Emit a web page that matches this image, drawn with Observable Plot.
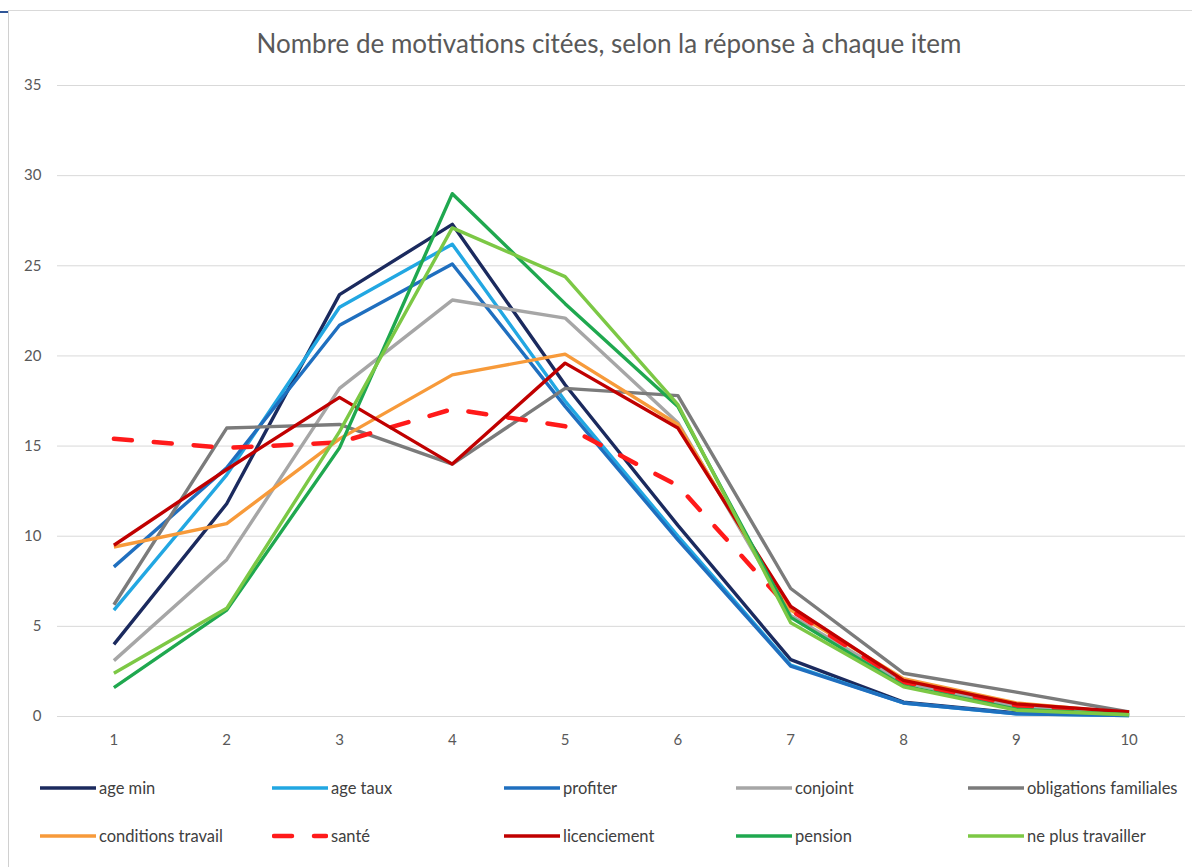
<!DOCTYPE html>
<html><head><meta charset="utf-8">
<script src="https://cdn.jsdelivr.net/npm/d3@7"></script>
<script src="https://cdn.jsdelivr.net/npm/@observablehq/plot@0.6"></script>
<style>
body{margin:0;background:#fff;font-family:Lato,sans-serif;overflow:hidden;}
#frame{position:absolute;left:8px;top:10px;width:1200px;height:880px;border-left:1px solid #d0d0d0;border-top:1px solid #d9d9d9;}
#mark{position:absolute;left:0;top:11px;width:8px;height:2px;background:#2f5597;}
#title{position:absolute;left:0;width:1218px;top:27px;text-align:center;font-size:26px;color:#595959;white-space:nowrap;}
#chart{position:absolute;left:0;top:70px;}
.item{position:absolute;display:flex;align-items:center;font-size:16.5px;color:#404040;white-space:nowrap;}
.item svg{margin-right:3px;}
</style></head>
<body>
<div id="frame"></div><div id="mark"></div>
<div id="title">Nombre de motivations citées, selon la réponse à chaque item</div>
<div id="chart"></div>
<div id="legend"></div>
<script>
const items = [1,2,3,4,5,6,7,8,9,10];
const yTicks = [0,5,10,15,20,25,30,35];
const seriesNames = ["age min","age taux","profiter","conjoint","obligations familiales","conditions travail","santé","licenciement","pension","ne plus travailler"];
const seriesColors = ["#1b2a5e","#22a7e2","#1f6fbf","#a6a6a6","#7b7b7b","#f79a3a","#ff1a1a","#c00000","#1fa84f","#7cc845"];
const ageMin      = [4.0, 11.8, 23.4, 27.3, 18.4, 10.6, 3.15, 0.8, 0.2, 0.1];
const ageTaux     = [5.9, 13.4, 22.7, 26.2, 17.5, 10.0, 2.85, 0.75, 0.15, 0.05];
const profiter    = [8.3, 13.8, 21.7, 25.1, 17.2, 9.8, 2.8, 0.75, 0.15, 0.05];
const conjoint    = [3.1, 8.7, 18.2, 23.1, 22.1, 16.3, 5.6, 1.9, 0.55, 0.15];
const obligations = [6.2, 16.0, 16.2, 14.0, 18.2, 17.8, 7.1, 2.4, 1.35, 0.25];
const conditions  = [9.4, 10.7, 15.4, 18.95, 20.1, 16.2, 5.9, 2.1, 0.75, 0.2];
const sante       = [15.4, 14.9, 15.2, 17.05, 16.1, 12.8, 5.9, 1.9, 0.6, 0.15];
const licenciement= [9.5, 13.7, 17.7, 14.0, 19.6, 16.0, 6.1, 2.0, 0.7, 0.25];
const pension     = [1.6, 5.9, 14.9, 29.0, 22.9, 17.2, 5.5, 1.7, 0.4, 0.1];
const nePlus      = [2.4, 6.0, 15.8, 27.1, 24.4, 17.3, 5.2, 1.65, 0.35, 0.1];
const allValues = [ageMin, ageTaux, profiter, conjoint, obligations, conditions, sante, licenciement, pension, nePlus];

const rows = [];
seriesNames.forEach((s, i) => allValues[i].forEach((v, j) => rows.push({series: s, x: items[j], y: v})));

const marks = [
  Plot.gridY(yTicks, {stroke: "#d9d9d9", strokeOpacity: 1, strokeWidth: 1}),
  Plot.axisY(yTicks, {tickSize: 0, tickPadding: 16, label: null, fontSize: 15, fill: "#595959"}),
  Plot.axisX(items, {tickSize: 0, tickPadding: 18, label: null, fontSize: 15, fill: "#595959", tickFormat: d => String(d)})
];
seriesNames.forEach((s, i) => {
  const data = rows.filter(r => r.series === s);
  const dashed = s === "santé";
  marks.push(Plot.lineY(data, {
    x: "x", y: "y", stroke: seriesColors[i],
    strokeWidth: dashed ? 4.5 : 3.4,
    strokeDasharray: dashed ? "18,22" : null,
    strokeLinecap: dashed ? "round" : "butt",
    strokeLinejoin: "round"
  }));
});

const chart = Plot.plot({
  width: 1192, height: 686,
  marginTop: 15, marginBottom: 40, marginLeft: 57, marginRight: 7,
  x: {type: "linear", domain: [0.5, 10.5]},
  y: {domain: [0, 35]},
  style: {fontFamily: "Lato, sans-serif", color: "#595959", background: "transparent"},
  marks
});
document.getElementById("chart").appendChild(chart);

const legend = document.getElementById("legend");
seriesNames.forEach((s, i) => {
  const col = i % 5, row = Math.floor(i / 5);
  const div = document.createElement("div");
  div.className = "item";
  div.style.left = (40 + col * 232) + "px";
  div.style.top = (777 + row * 48) + "px";
  div.style.height = "22px";
  const dashed = s === "santé";
  div.innerHTML = `<svg width="56" height="10"><line x1="${dashed?2:0}" y1="5" x2="${dashed?54:56}" y2="5" stroke="${seriesColors[i]}" stroke-width="${dashed?4.5:3.5}" stroke-linecap="${dashed?'round':'butt'}" ${dashed?'stroke-dasharray="18,22"':''}/></svg><span>${s}</span>`;
  legend.appendChild(div);
});
</script>
</body></html>
